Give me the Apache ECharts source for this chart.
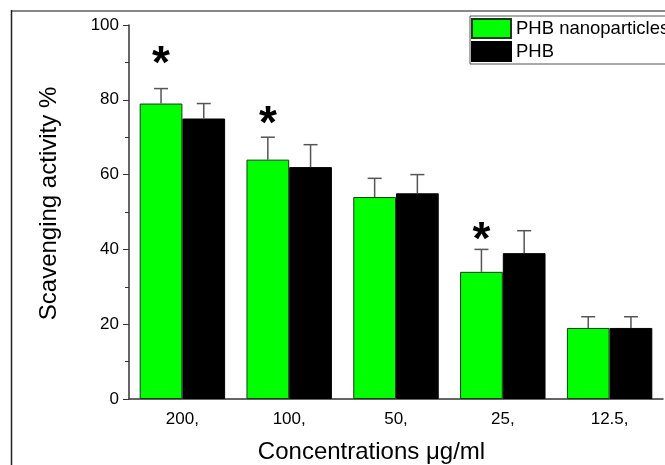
<!DOCTYPE html>
<html>
<head>
<meta charset="utf-8" />
<title></title>
<style>body{margin:0;background:#fff}</style>
</head>
<body>
<div id="main" style="width:665px;height:465px"></div>
<script src="https://cdn.jsdelivr.net/npm/echarts@6/dist/echarts.min.js"></script>
<script type="text/javascript">
    var categories = ['200,', '100,', '50,', '25,', '12.5,'];
    var nanoValues = [79, 64, 54, 34, 19];
    var nanoErrors = [4, 6, 5, 6, 3];
    var phbValues = [75, 62, 55, 39, 19];
    var phbErrors = [4, 6, 5, 6, 3];
    // height of the asterisk marks (value at the glyph centre), null = none
    var starValues = [92, 76, null, 45, null];

    var font = 'Liberation Sans, Arial, sans-serif';
    var starSize = 46;

    // one-sided error bar, side -1 = left bar, +1 = right bar
    function errorSeries(values, errors, side) {
        return {
            type: 'custom',
            silent: true,
            z: 3,
            encode: { x: 0, y: [1, 2] },
            data: values.map(function (v, i) { return [i, v, v + errors[i]]; }),
            renderItem: function (params, api) {
                var base = api.coord([api.value(0), api.value(1)]);
                var top = api.coord([api.value(0), api.value(2)]);
                var band = api.size([1, 0])[0];
                var x = base[0] + side * band * 0.2;
                var cap = 7;
                var st = { stroke: '#555', lineWidth: 1.5 };
                return {
                    type: 'group',
                    children: [
                        { type: 'line', shape: { x1: x, y1: base[1], x2: x, y2: top[1] }, style: st },
                        { type: 'line', shape: { x1: x - cap, y1: top[1], x2: x + cap, y2: top[1] }, style: st }
                    ]
                };
            }
        };
    }

    var starData = [];
    starValues.forEach(function (v, i) {
        if (v != null) starData.push([i, v]);
    });

    var myChart = echarts.init(document.getElementById('main'));
    var option = {
        backgroundColor: '#fff',
        animation: false,
        textStyle: { fontFamily: font },
        grid: { left: 129, right: 2, top: 25, bottom: 66, outerBoundsMode: 'none' },
        legend: {
            data: ['PHB nanoparticles', 'PHB'],
            orient: 'vertical',
            left: 470,
            top: 16,
            padding: [2, 12, 2, 1],
            itemGap: 2,
            itemWidth: 39,
            itemHeight: 19,
            borderColor: '#555',
            borderWidth: 1,
            icon: 'rect',
            textStyle: { fontSize: 18.5, color: '#000', fontFamily: font }
        },
        xAxis: [{
            type: 'category',
            data: categories,
            name: 'Concentrations \u03bcg/ml',
            nameLocation: 'middle',
            nameGap: 41,
            nameTextStyle: { fontSize: 24, color: '#000', padding: [0, 49, 0, 0] },
            axisLine: { lineStyle: { color: '#333', width: 1.5 } },
            axisTick: { alignWithLabel: true, length: 6, lineStyle: { color: '#333' } },
            axisLabel: { fontSize: 17, color: '#000', margin: 12 }
        }, {
            type: 'category',
            data: categories,
            position: 'bottom',
            axisLine: { show: false },
            axisTick: { length: 4, lineStyle: { color: '#333' } },
            axisLabel: { show: false }
        }],
        yAxis: {
            type: 'value',
            min: 0,
            max: 100,
            interval: 20,
            name: 'Scavenging activity %',
            nameLocation: 'middle',
            nameGap: 68,
            nameTextStyle: { fontSize: 24, color: '#000', padding: [0, 0, 0, 17] },
            axisLine: { show: true, lineStyle: { color: '#333', width: 1.5 } },
            axisTick: { show: true, length: 6, lineStyle: { color: '#333' } },
            minorTick: { show: true, splitNumber: 2, length: 4, lineStyle: { color: '#333' } },
            splitLine: { show: false },
            axisLabel: { fontSize: 17, color: '#000', margin: 10 }
        },
        graphic: [
            { type: 'line', shape: { x1: 11, y1: 11, x2: 665, y2: 11 }, style: { stroke: '#888', lineWidth: 2 } },
            { type: 'line', shape: { x1: 11.5, y1: 10, x2: 11.5, y2: 465 }, style: { stroke: '#222', lineWidth: 1.5 } }
        ],
        series: [{
            name: 'PHB nanoparticles',
            type: 'bar',
            data: nanoValues,
            barWidth: '40%',
            barGap: '0%',
            itemStyle: { color: '#00ff00', borderColor: '#1a3a1a', borderWidth: 1 }
        }, {
            name: 'PHB',
            type: 'bar',
            data: phbValues,
            barWidth: '40%',
            barGap: '0%',
            itemStyle: { color: '#000', borderColor: '#000', borderWidth: 1 }
        },
            errorSeries(nanoValues, nanoErrors, -1),
            errorSeries(phbValues, phbErrors, 1),
        {
            type: 'custom',
            silent: true,
            z: 4,
            encode: { x: 0, y: 1 },
            data: starData,
            renderItem: function (params, api) {
                var p = api.coord([api.value(0), api.value(1)]);
                var band = api.size([1, 0])[0];
                return {
                    type: 'text',
                    x: p[0] - band * 0.2,
                    y: p[1] + starSize * 0.22,
                    style: {
                        text: '*',
                        fontSize: starSize,
                        fontWeight: 'bold',
                        fontFamily: font,
                        fill: '#000',
                        align: 'center',
                        verticalAlign: 'middle'
                    }
                };
            }
        }]
    };
    myChart.setOption(option);
</script>
</body>
</html>
